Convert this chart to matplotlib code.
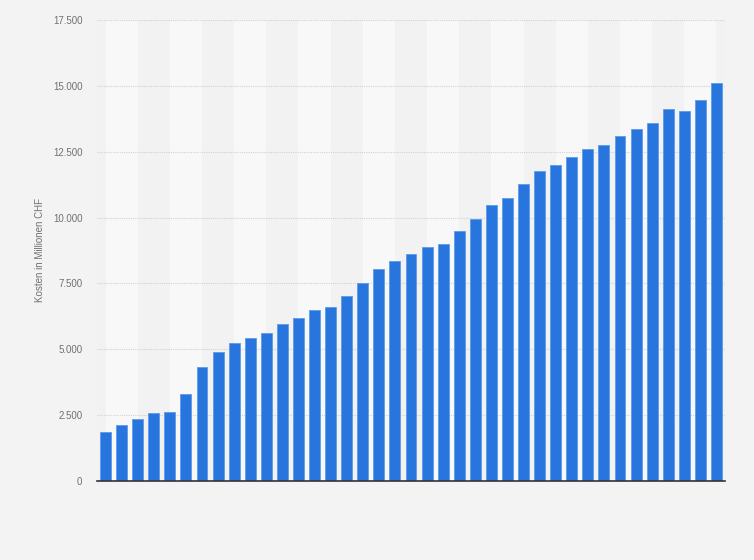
import matplotlib
matplotlib.use("Agg")
import matplotlib.pyplot as plt
import numpy as np

values = [1870, 2140, 2370, 2600, 2635, 3320, 4310, 4880, 5220, 5410,
          5615, 5960, 6170, 6475, 6600, 7020, 7515, 8050, 8350, 8620,
          8885, 9000, 9495, 9950, 10480, 10750, 11290, 11750, 12000, 12310,
          12610, 12760, 13105, 13370, 13600, 14130, 14055, 14475, 15120]
yticks = [0, 2500, 5000, 7500, 10000, 12500, 15000, 17500]
ytick_labels = ["0", "2.500", "5.000", "7.500", "10.000", "12.500", "15.000", "17.500"]
ylabel = "Kosten in Millionen CHF"

plt.rcParams['font.family'] = ['Liberation Sans', 'DejaVu Sans']

fig = plt.figure(figsize=(7.54, 5.6), dpi=100)
fig.patch.set_facecolor("#f3f3f3")
ax = fig.add_axes([97/754, 1-481/560, (725-97)/754, (481-20)/560])
ax.set_facecolor("#f2f2f2")

n = len(values)
x = np.arange(n)
# alternating background bands (2 categories wide, from bar centre to bar centre)
for k in range(0, n - 1, 2):
    if (k // 2) % 2 == 0:
        ax.axvspan(k, k + 2, color="#f8f8f8", zorder=0, lw=0)

ax.bar(x, values, width=0.68, color="#2876dd", edgecolor="#5c9be9", linewidth=0.6, zorder=3)

ax.set_xlim(-0.53, n - 1 + 0.53)
ax.set_ylim(0, 17500)
ax.set_yticks(yticks)
ax.set_yticklabels(ytick_labels)
ax.set_xticks([])
ax.tick_params(axis="y", length=0, pad=10.5, labelsize=7, labelcolor="#707070")
ax.yaxis.grid(True, linestyle=(0, (1, 1)), color="#d2d2d2", linewidth=0.8, zorder=1)
ax.set_axisbelow(True)
for s in ["top", "right", "left"]:
    ax.spines[s].set_visible(False)
ax.spines["bottom"].set_color("#333333")
ax.spines["bottom"].set_linewidth(1.2)
ax.spines["bottom"].set_zorder(4)

ax.set_ylabel(ylabel, fontsize=7, color="#707070")
ax.yaxis.set_label_coords((45 - 97) / 628, 0.5)

fig.savefig("out.png", dpi=100, facecolor=fig.get_facecolor())
